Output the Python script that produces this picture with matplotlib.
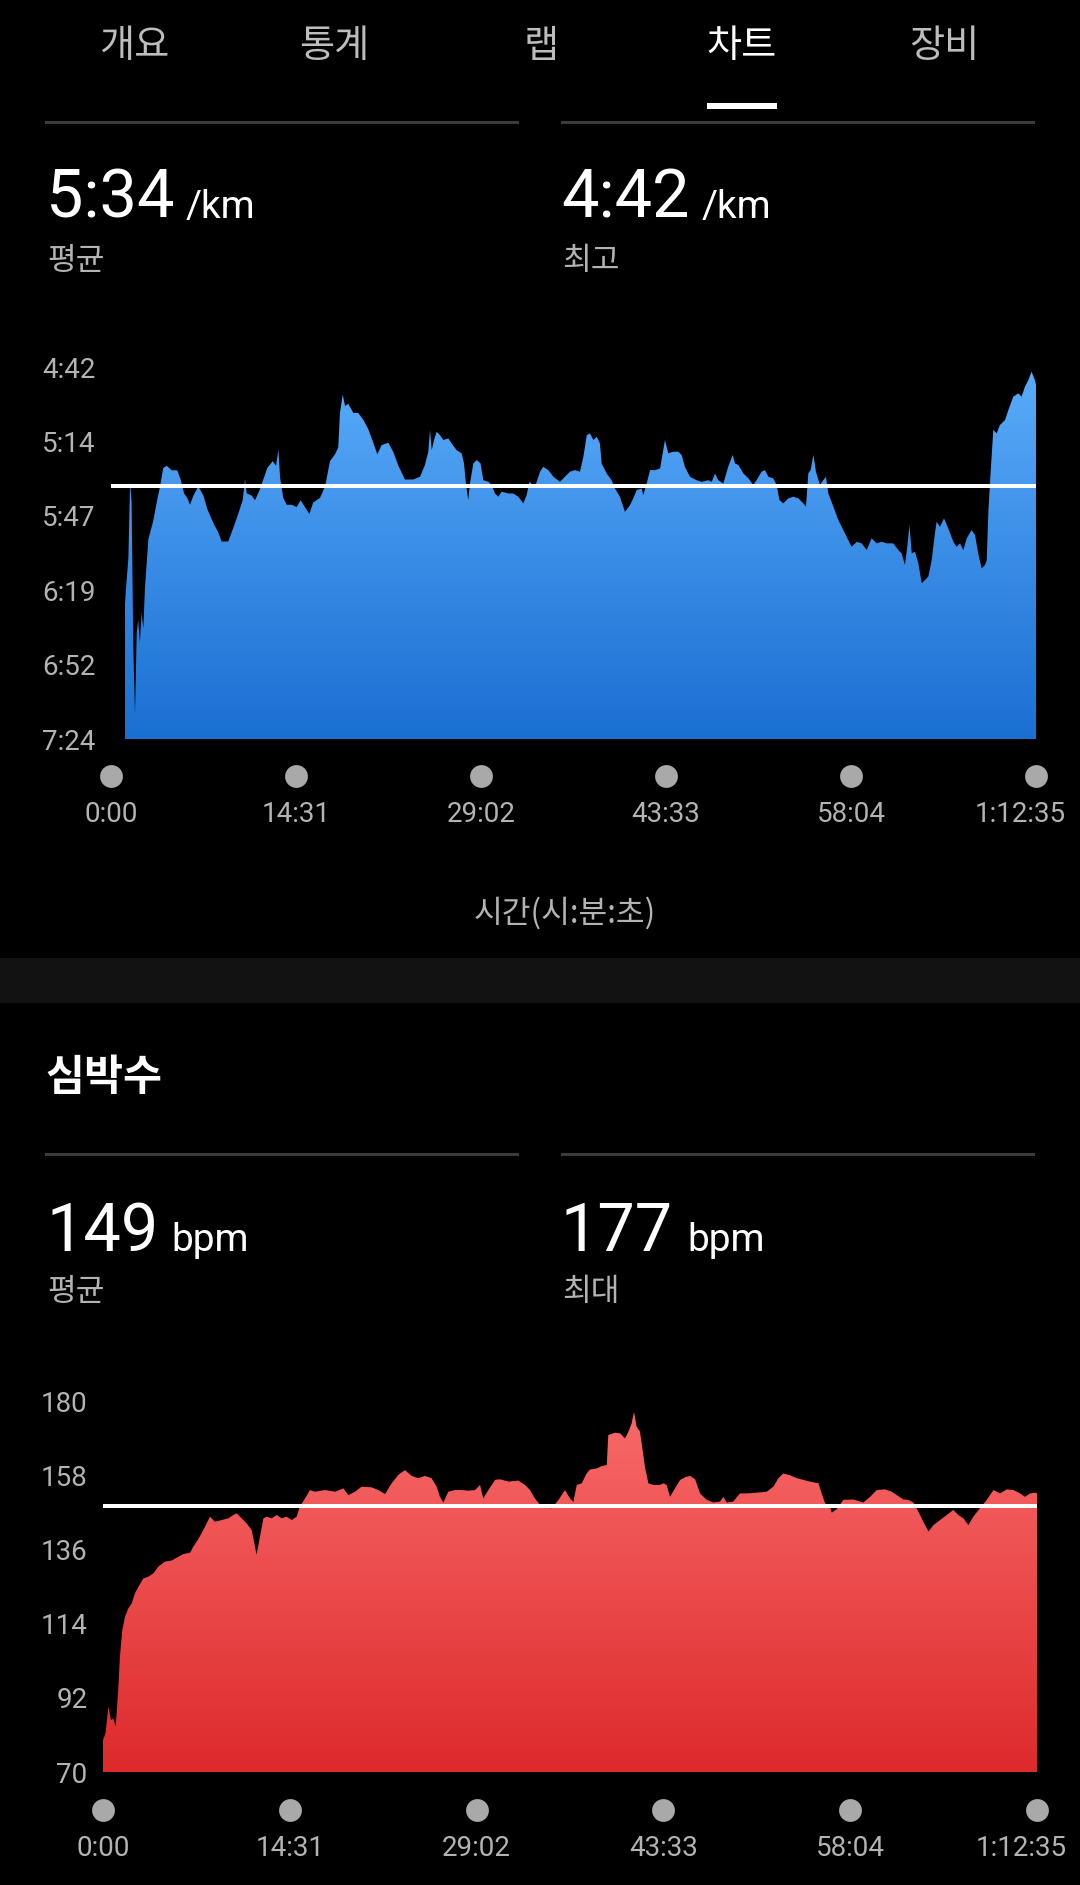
import numpy as np
import matplotlib
matplotlib.use('Agg')
import matplotlib.pyplot as plt
from matplotlib.colors import LinearSegmentedColormap
from matplotlib.patches import Polygon, Rectangle
from matplotlib.transforms import offset_copy

W, H, DPI = 1080, 1885, 100
KR = ['Noto Sans CJK KR', 'DejaVu Sans']
NUM = ['Roboto', 'DejaVu Sans']
plt.rcParams['font.family'] = NUM

# ---------------- data ----------------
tabs = ['개요', '통계', '랩', '차트', '장비']
active_tab = '차트'

time_ticks = [0, 871, 1742, 2613, 3484, 4355]
time_labels = ['0:00', '14:31', '29:02', '43:33', '58:04', '1:12:35']
time_axis_title = '시간(시:분:초)'

pace_ticks = [282, 314.4, 346.8, 379.2, 411.6, 444]
pace_labels = ['4:42', '5:14', '5:47', '6:19', '6:52', '7:24']
pace_avg = 334   # 5:34 /km
pace_best = 282  # 4:42 /km

pace_time = [66, 71, 82, 90, 97, 105, 113, 121, 128, 136, 144, 152, 160, 176, 199, 215, 231, 246, 262, 286,
             312, 328, 344, 359, 372, 388, 411, 435, 454, 482, 505, 521, 552, 576, 599, 620, 631, 639, 662, 678,
             698, 717, 736, 761, 777, 788, 796, 811, 827, 851, 874, 893, 913, 934, 952, 984, 1008, 1031, 1055, 1070,
             1078, 1091, 1102, 1117, 1141, 1164, 1188, 1211, 1235, 1254, 1274, 1306, 1329, 1353, 1384, 1423,
             1455, 1478, 1494, 1502, 1510, 1521, 1533, 1549, 1565, 1588, 1604, 1627, 1651, 1662, 1671, 1682, 1690,
             1706, 1722, 1740, 1753, 1777, 1792, 1808, 1824, 1839, 1871, 1894, 1918, 1941, 1957, 1970, 1996, 2020,
             2035, 2059, 2083, 2114, 2137, 2161, 2185, 2208, 2224, 2240, 2255, 2271, 2287, 2302, 2310, 2334, 2357,
             2373, 2396, 2420, 2443, 2459, 2475, 2498, 2506, 2522, 2538, 2561, 2585, 2600, 2608, 2624, 2647, 2671,
             2687, 2702, 2726, 2757, 2781, 2812, 2828, 2844, 2859, 2883,
             2906, 2927, 2938, 2954, 2977, 3001, 3024, 3040, 3063, 3079, 3095, 3118, 3134, 3147, 3165, 3189, 3212,
             3236, 3260, 3272, 3283, 3294, 3307, 3319, 3338, 3354, 3366, 3377, 3401, 3424, 3448, 3471, 3487, 3511,
             3534, 3558, 3581, 3605, 3628, 3652, 3683, 3707, 3722, 3738, 3749, 3759, 3770, 3785, 3801, 3817, 3832,
             3848, 3864, 3879, 3887, 3903, 3922, 3942, 3966, 3981, 3997, 4013, 4029, 4052, 4068, 4083, 4099, 4115,
             4123, 4131, 4142, 4154, 4170, 4185, 4209, 4225, 4248, 4272, 4287, 4303, 4319, 4334, 4350, 4355]
pace_sec = [385, 378, 365, 332, 341, 404, 433, 398, 392, 402, 389, 396, 378, 357, 349, 341, 334, 326, 325, 327,
            327, 331, 337, 339, 342, 338, 334, 338, 344, 350, 354, 358, 358, 352, 346, 340, 331, 337, 338, 340,
            336, 331, 326, 323, 325, 318, 330, 339, 342, 342, 343, 340, 343, 346, 341, 339, 334, 323, 320, 317,
            302, 294, 299, 298, 302, 302, 305, 309, 315, 320, 316, 315, 319, 325, 331, 331,
            329.8, 324.7, 318.9, 309.5, 318.2, 313.8, 310.2, 311.7, 313.8, 313.1, 315.3, 318.2, 319.6, 324.0, 332.7,
            340.0, 332.7, 324.0, 322.5, 324.0, 331.3, 332.0, 333.4, 337.1, 338.5, 336.3, 337.1, 337.1, 338.5, 341.4,
            337.8, 332.0, 334.2, 327.6, 325.5, 326.9, 329.8, 332.0, 329.8, 327.6, 326.9, 327.6, 321.1, 311.7, 310.9,
            313.8, 312.4, 315.3, 324.0, 328.4, 331.3, 334.9, 338.5, 345.1, 342.2, 339.2, 335.6, 334.9, 337.8, 332.7,
            326.9, 326.9, 326.2, 318.2, 313.8, 319.6, 318.9, 318.9, 320.4, 325.5, 329.8, 331.3, 332.0, 331.3, 332.0,
            328.4, 331.3, 332.7,
            325.4, 320.3, 324.0, 324.7, 328.3, 330.5, 333.4, 331.2, 327.6, 326.9, 329.8, 330.5, 333.4, 339.9, 341.4,
            339.2, 338.5, 339.2, 341.4, 342.8, 328.3, 326.9, 320.3, 327.6, 333.4, 331.2, 329.8, 337.0, 342.8, 348.6,
            353.0, 357.4, 360.3, 358.1, 358.8, 361.7, 356.6, 358.8, 358.1, 358.8, 358.8, 361.7, 363.2, 368.2, 360.3,
            350.8, 363.2, 362.4, 367.5, 376.2, 374.8, 373.3, 366.1, 354.5, 349.4, 351.6, 347.9, 352.3, 358.1, 360.3,
            358.8, 361.7, 356.6, 353.0, 355.2, 363.2, 369.7, 368.2, 366.1, 344.3, 326.9, 309.4, 310.9, 307.3, 305.1,
            300.7, 294.9, 293.5, 294.9, 290.6, 287.7, 284.0, 287.7, 289.8]

hr_ticks = [70, 92, 114, 136, 158, 180]
hr_labels = ['70', '92', '114', '136', '158', '180']
hr_avg = 149
hr_max = 177

hr_time = [0, 12, 25, 37, 48, 59, 71, 79, 90, 103, 118, 134, 149, 165, 188, 211, 235, 258, 289, 320,
           351, 374, 406, 421, 437, 460, 483, 499, 522, 553, 584, 608, 623, 647, 670, 693, 706, 716, 732, 748,
           763, 786, 810, 833, 856, 880, 903, 918, 942, 965, 988, 1035, 1082, 1121, 1144, 1175, 1206, 1253, 1284,
           1315, 1346, 1377, 1408, 1439, 1470, 1501, 1532, 1556, 1571, 1587, 1610, 1641, 1672, 1703, 1735, 1758,
           1773, 1797, 1828, 1851, 1890, 1937, 1968, 1991, 2014, 2038, 2061, 2092, 2123, 2154, 2178, 2193, 2209,
           2232, 2255, 2271, 2302, 2325, 2349, 2356, 2387, 2411, 2434, 2450, 2465, 2476, 2488, 2504, 2516, 2527,
           2543, 2566, 2597, 2613, 2628, 2644, 2667, 2691, 2714, 2737, 2761, 2784, 2815, 2846, 2877, 2893, 2908,
           2939, 2970, 3001, 3048, 3095, 3126, 3149, 3172, 3203, 3235, 3266, 3297, 3336, 3351, 3367, 3390, 3398,
           3421, 3452, 3499, 3545, 3577, 3608, 3646, 3678, 3701, 3732, 3755, 3779, 3802, 3825, 3849, 3872, 3903,
           3934, 3965, 3988, 4012, 4035, 4058, 4089, 4121, 4152, 4183, 4214, 4245, 4276, 4299, 4323, 4346, 4355]
hr_bpm = [79.5, 81.5, 89.4, 85.4, 85.9, 83.4, 94.3, 104.2, 112.1, 116.1, 118.5, 120.0, 123.0, 124.9, 127.4,
          127.9, 128.9, 130.9, 132.4, 132.7, 133.8, 134.6, 135.0, 136.8, 138.3, 140.8, 143.7, 145.7, 144.2, 144.7,
          145.2, 146.2, 146.7, 145.2, 143.7, 141.8, 137.8, 134.4, 139.8, 145.2, 145.7, 145.2, 146.2, 145.2, 145.7,
          144.7, 145.7, 148.7, 151.1, 153.6, 153.1, 153.6, 153.1, 154.1, 152.1, 153.1, 154.6, 154.4, 153.6, 152.4,
          155.6, 158.1, 159.5, 157.8, 157.1, 157.8, 157.1, 154.6, 151.6, 149.9, 153.1, 153.6, 153.6, 153.4, 153.6,
          155.1, 151.1, 153.6, 156.6, 156.8, 156.1, 156.4, 155.1, 153.6, 151.1, 149.2, 148.4, 148.2, 150.6, 153.6,
          151.1, 150.1, 155.1, 155.6, 158.5, 159.7, 160.0, 160.7, 161.0, 169.9, 170.6, 170.4, 168.9, 170.9, 173.4,
          176.8, 172.4, 170.9, 165.5, 160.5, 155.6, 155.1, 155.1, 155.6, 155.1, 151.6, 154.1, 156.6, 157.4, 157.8,
          156.8, 152.6, 150.7, 149.9, 150.2, 151.6, 149.9, 150.2, 152.6, 152.6, 152.8, 153.1, 154.6, 157.1, 158.5,
          158.0, 157.1, 156.6, 156.1, 155.6, 152.6, 149.7, 148.5, 146.9, 147.9, 150.7, 150.8, 149.9, 151.6, 153.6,
          153.8, 153.1, 152.1, 150.8, 150.7, 149.9, 147.2, 144.2, 141.3, 143.2, 144.7, 146.2, 147.7, 146.2, 145.2,
          143.2, 145.7, 148.2, 150.7, 153.6, 152.6, 153.8, 153.6, 152.6, 151.6, 152.6, 152.8, 152.6]

# ---------------- figure ----------------
fig = plt.figure(figsize=(W / DPI, H / DPI), dpi=DPI, facecolor='black')


def fx(px):
    return px / W


def fy(py):
    return 1 - py / H


def rect(x0, y0, x1, y1, color):
    fig.add_artist(Rectangle((fx(x0), fy(y1)), (x1 - x0) / W, (y1 - y0) / H,
                             transform=fig.transFigure, facecolor=color, edgecolor='none'))


GRAY = '#b3b3b3'
TICK_FS = 20

# tabs
tab_x = [134, 334, 541, 742, 944]
for name, x in zip(tabs, tab_x):
    act = name == active_tab
    fig.text(fx(x), fy(46), name, ha='center', va='center', fontsize=27.5, family=KR,
             color='white' if act else '#bdbdbd', fontweight='medium' if act else 'normal')
rect(707, 103, 777, 109, 'white')


def stat_block(y_line, y_base, y_sub, items):
    rect(45, y_line - 1.5, 519, y_line + 1.5, '#3c3c3c')
    rect(561, y_line - 1.5, 1035, y_line + 1.5, '#3c3c3c')
    for (x, val, ux, unit, sub) in items:
        fig.text(fx(x), fy(y_base), val, ha='left', va='baseline', fontsize=48, color='white')
        fig.text(fx(ux), fy(y_base), unit, ha='left', va='baseline', fontsize=28, color='white')
        fig.text(fx(x + 1), fy(y_sub), sub, ha='left', va='center', fontsize=22.5, color=GRAY, family=KR)


def sec_to_mmss(s):
    s = int(round(s))
    return f'{s // 60}:{s % 60:02d}'


stat_block(123, 218, 261, [(46, sec_to_mmss(pace_avg), 186, '/km', '평균'),
                           (561, sec_to_mmss(pace_best), 702, '/km', '최고')])


def chart(left, top, right, bottom, t, v, ylim, yticks, ylabels, avg, c_top, c_bot):
    ax = fig.add_axes([fx(left), fy(bottom), (right - left) / W, (bottom - top) / H])
    ax.set_facecolor('black')
    base, ytop = ylim
    verts = [(t[0], base)] + list(zip(t, v)) + [(t[-1], base)]
    poly = Polygon(verts, closed=True, facecolor='none', edgecolor='none')
    ax.add_patch(poly)
    cmap = LinearSegmentedColormap.from_list('g', [c_top, c_bot])
    grad = np.linspace(0, 1, 256).reshape(-1, 1)
    im = ax.imshow(grad, cmap=cmap, extent=[0, 4355, base, ytop], origin='upper',
                   aspect='auto', interpolation='bilinear', zorder=1)
    im.set_clip_path(poly)
    ax.axhline(avg, color='white', lw=2.9, zorder=3)
    ax.set_xlim(0, 4355)
    ax.set_ylim(base, ytop)
    for s in ax.spines.values():
        s.set_visible(False)
    ax.set_xticks([])
    ax.set_yticks(yticks, ylabels)
    ax.tick_params(axis='y', length=0, pad=11, labelcolor=GRAY, labelsize=TICK_FS)
    hpx = bottom - top
    xt = ax.get_xaxis_transform()
    ax.scatter(time_ticks, [-37.5 / hpx] * len(time_ticks), transform=xt, s=270,
               color='#a9a9a9', linewidths=0, clip_on=False, zorder=5)
    for i, (tt, lab) in enumerate(zip(time_ticks, time_labels)):
        tr = xt if i < len(time_ticks) - 1 else offset_copy(xt, fig=fig, x=-16, units='dots')
        ax.text(tt, -76 / hpx, lab, transform=tr, ha='center', va='center',
                fontsize=TICK_FS, color=GRAY, clip_on=False)
    return ax


chart(111, 367, 1036, 739, pace_time, pace_sec, (444, 282), pace_ticks, pace_labels,
      pace_avg, '#5aacfa', '#1a6fd2')

fig.text(fx(565), fy(913), time_axis_title, ha='center', va='center', fontsize=22.5, color=GRAY, family=KR)
rect(0, 958, 1080, 1003, '#121212')

fig.text(fx(45), fy(1078), '심박수', ha='left', va='center', fontsize=30.5, fontweight='bold',
         color='white', family=KR)
stat_block(1155, 1251, 1292, [(46, str(hr_avg), 171, 'bpm', '평균'),
                              (561, str(hr_max), 687, 'bpm', '최대')])

chart(103, 1401, 1037, 1772, hr_time, hr_bpm, (70, 180), hr_ticks, hr_labels,
      hr_avg, '#f96b6b', '#dd2a2c')

fig.savefig('out.png', dpi=DPI, facecolor='black')
